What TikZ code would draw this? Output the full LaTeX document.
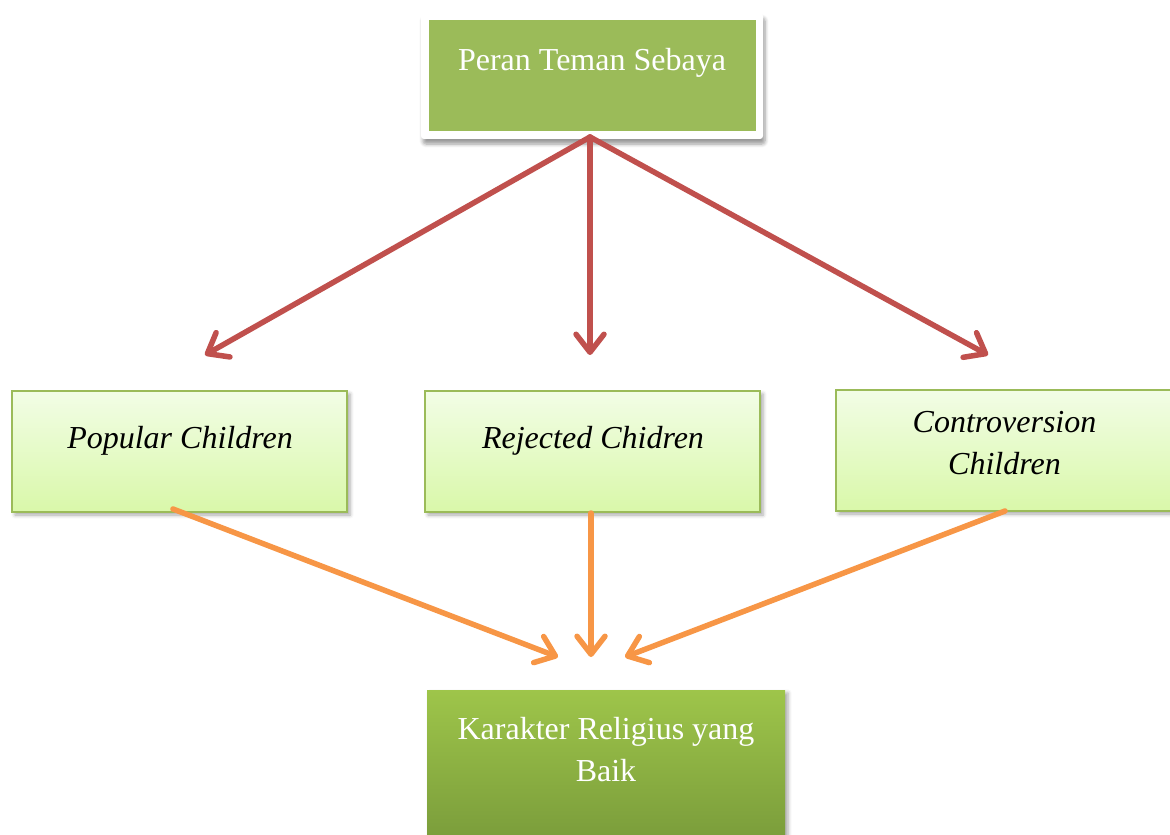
\documentclass[tikz,border=0pt]{standalone}
\usepackage{fontspec}
\setmainfont{Liberation Serif}
\usetikzlibrary{arrows.meta,shadows.blur,calc}
\definecolor{ogreen}{HTML}{9BBB59}
\definecolor{ored}{HTML}{C0504D}
\definecolor{oorange}{HTML}{F79646}
\definecolor{lgtop}{HTML}{F2FDE6}
\definecolor{lgbot}{HTML}{D9F8A9}
\definecolor{dgtop}{HTML}{9EC54A}
\definecolor{dgbot}{HTML}{789A3A}
\tikzset{
  lbox/.style={draw=ogreen, line width=1pt, top color=lgtop, bottom color=lgbot,
    minimum width=167.5pt, minimum height=60.5pt, inner sep=0pt,
    blur shadow={shadow xshift=1.5pt, shadow yshift=-1.5pt, shadow blur steps=4, shadow opacity=35}},
  txt/.style={font=\fontsize{16}{21}\selectfont, align=center, inner sep=0pt},
  itxt/.style={txt, font=\fontsize{16}{21}\selectfont\itshape},
  wtxt/.style={txt, text=white},
  redarrow/.style={draw=ored, line width=2.75pt, line cap=round,
    -{Straight Barb[length=9pt,width=14pt,line cap=round,line join=round]}},
  orarrow/.style={draw=oorange, line width=2.75pt, line cap=round,
    -{Straight Barb[length=9pt,width=14pt,line cap=round,line join=round]}},
}
\begin{document}
\begin{tikzpicture}[x=0.5pt,y=-0.5pt]
\useasboundingbox (0,0) rectangle (1170,834);
\clip (0,0) rectangle (1170,834);
% top box
\node[fill=white, rounded corners=1.5pt, minimum width=171pt, minimum height=63pt, inner sep=0pt,
  blur shadow={shadow xshift=1pt, shadow yshift=-2.5pt, shadow blur steps=6, shadow opacity=40}] (frame) at (592,76) {};
\node[fill=ogreen, minimum width=163.5pt, minimum height=55.5pt, inner sep=0pt] (top) at (592.5,75.5) {};
\node[wtxt, anchor=base] (toptxt) at (592,71) {Peran Teman Sebaya};
% middle boxes
\node[lbox] (pop) at (179.5,451.5) {};
\node[itxt, anchor=base] (poptxt) at (180,448) {Popular Children};
\node[lbox] (rej) at (592.5,451.5) {};
\node[itxt, anchor=base] (rejtxt) at (593,448) {Rejected Chidren};
\node[lbox] (con) at (1003.5,450.5) {};
\node[itxt] (contxt) at (1004.5,443) {Controversion\\Children};
% bottom box
\node[top color=dgtop, bottom color=dgbot, minimum width=179pt, minimum height=80pt, inner sep=0pt,
  blur shadow={shadow xshift=1.5pt, shadow yshift=-1.5pt, shadow blur steps=4, shadow opacity=35}] (res) at (606,770) {};
\node[wtxt] (restxt) at (606,750) {Karakter Religius yang\\Baik};
% arrow end points
\coordinate (r1) at (205,355);
\coordinate (r2) at (590,355);
\coordinate (r3) at (988,355);
\coordinate (o1) at (558,657);
\coordinate (o2) at (591,657);
\coordinate (o3) at (625,657);
\coordinate (s0) at (590,137);
\coordinate (s1) at (173,509);
\coordinate (s2) at (591,513);
\coordinate (s3) at (1005,511);
% arrows
\draw[redarrow] (s0) -- (r1);
\draw[redarrow] (s0) -- (r2);
\draw[redarrow] (s0) -- (r3);
\draw[orarrow] (s1) -- (o1);
\draw[orarrow] (s2) -- (o2);
\draw[orarrow] (s3) -- (o3);
\end{tikzpicture}
\end{document}
